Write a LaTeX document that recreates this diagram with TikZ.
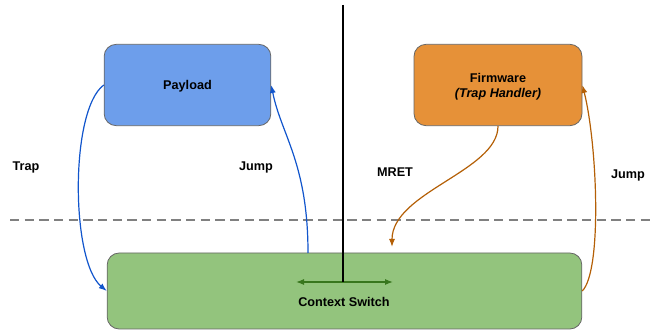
\documentclass[tikz,border=0pt]{standalone}
\usepackage{fontspec}
\setmainfont{Liberation Sans}
\usepackage{tikz}
\usetikzlibrary{arrows.meta, calc}

\definecolor{payblue}{HTML}{6D9EEB}
\definecolor{fworange}{HTML}{E69138}
\definecolor{ctxgreen}{HTML}{93C47D}
\definecolor{trapblue}{HTML}{1155CC}
\definecolor{retorange}{HTML}{B45F06}
\definecolor{darkgreen}{HTML}{38761D}
\definecolor{boxgray}{HTML}{666666}

\tikzset{
  box/.style={draw=boxgray, rounded corners=9pt, line width=0.6pt, inner sep=0pt},
  lbl/.style={font=\fontsize{9.5}{11.25}\selectfont\bfseries, inner sep=0pt},
  tip/.style={-{Latex[length=6pt,width=4.5pt]}, line width=0.9pt},
}

\begin{document}
\begin{tikzpicture}[x=0.75pt, y=-0.75pt]
  \useasboundingbox (0,0) rectangle (654,331);
  \draw[gray, line width=1.1pt, dash pattern=on 7pt off 4pt] (10,220)--(654,220); %境界線
  \node[box, fill=payblue, minimum width=125pt, minimum height=61pt] (payload) at (187.5,85) {}; %Payload
  \node[lbl] (paytext) at (187.5,86.5) {Payload};
  \node[box, fill=fworange, minimum width=126pt, minimum height=61pt] (firmware) at (498,85) {}; %Firmware
  \node[lbl, align=center] (fwtext) at (498,87) {Firmware\\\itshape (Trap Handler)};
  \node[box, fill=ctxgreen, minimum width=356pt, minimum height=57pt] (ctx) at (344.5,291) {}; %Context Switch
  \node[lbl] (ctxtext) at (344,302) {Context Switch};
  \coordinate (top) at (343,5);
  \coordinate (mid) at (343,282);
  \coordinate (swl) at (296,282);
  \coordinate (swr) at (393,282);
  \coordinate (jumpfoot) at (308,253);
  \coordinate (mretend) at (392,247);
  \draw[darkgreen, line width=0.9pt, {Latex[length=6pt,width=4.5pt]}-{Latex[length=6pt,width=4.5pt]}] (swl)--(swr); %左右切替
  \draw[black, line width=1.5pt] (top)--(mid); %仕切り
  \draw[tip, trapblue] (payload.west) .. controls +(-34,25) and +(-36,-30) .. (ctx.west); %Trap
  \draw[tip, trapblue] (jumpfoot) .. controls +(0,-90) and +(10,50) .. (payload.east); %Jump
  \draw[tip, retorange] (firmware.south) .. controls +(0,45) and +(0,-55) .. (mretend); %MRET
  \draw[tip, retorange] (ctx.east) .. controls +(20,-20) and +(15,60) .. (firmware.east); %Jump
  \node[lbl] (traplbl) at (26,167.5) {Trap};
  \node[lbl] (jumpl) at (256,167.5) {Jump};
  \node[lbl] (mretlbl) at (395,172.5) {MRET};
  \node[lbl] (jumpr) at (628,175.5) {Jump};
\end{tikzpicture}
\end{document}
